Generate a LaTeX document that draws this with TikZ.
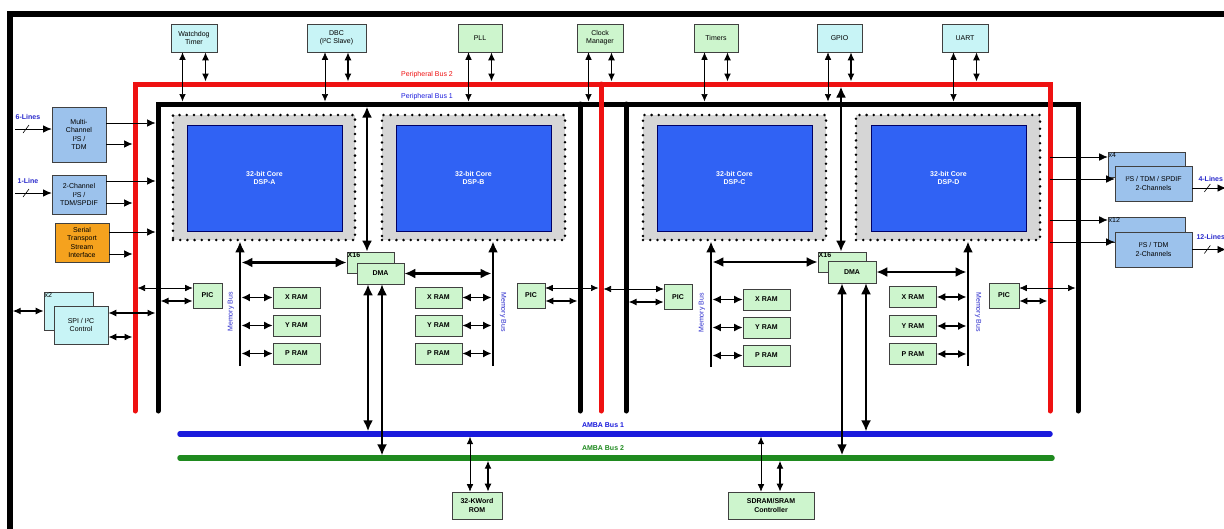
\documentclass[tikz,border=0pt]{standalone}
\usepackage{fontspec}
\setmainfont{Liberation Sans}
\usetikzlibrary{arrows.meta,calc}
\definecolor{cyanfill}{HTML}{C8F4F6}
\definecolor{greenfill}{HTML}{CDF5CD}
\definecolor{i2sblue}{HTML}{9CC2EC}
\definecolor{orangefill}{HTML}{F5A21E}
\definecolor{coreblue}{HTML}{3062F4}
\definecolor{coregray}{HTML}{D6D6D6}
\definecolor{busred}{HTML}{EE1111}
\definecolor{busblue}{HTML}{1A1ADC}
\definecolor{busgreen}{HTML}{1F8A1F}
\definecolor{lblblue}{HTML}{2A2ACC}
\newcommand{\myfs}{\fontsize{7}{8.2}\selectfont}
\newcommand{\myfsb}{\fontsize{7}{8.2}\selectfont\bfseries}
\newcommand{\perarrows}[1]{%
  \coordinate (#1L) at ([xshift=-11.5pt]#1.south);
  \coordinate (#1R) at ([xshift=11.5pt]#1.south);
  \draw[thinarr, shorten >=2.5pt] (#1L) -- (#1L |- pb1);
  \draw[medarr, shorten >=2.5pt] (#1R) -- (#1R |- pb2);}
\tikzset{
  box/.style={draw=black!75, line width=0.6pt, inner sep=0pt, align=center, font=\myfs},
  cbox/.style={box, fill=cyanfill},
  gbox/.style={box, fill=greenfill},
  gboxb/.style={box, fill=greenfill, font=\myfsb},
  bbox/.style={box, fill=i2sblue},
  obox/.style={box, fill=orangefill},
  graycore/.style={fill=coregray, draw=black, line width=2.8pt, dash pattern=on 0pt off 7.2pt, line cap=round, inner sep=0pt},
  bluecore/.style={fill=coreblue, draw=black!60!blue, line width=0.7pt, inner sep=0pt, align=center, text=white, font=\myfsb},
  busblk/.style={draw=black, line width=5pt, line cap=round, line join=miter},
  busr/.style={draw=busred, line width=5pt, line cap=round, line join=miter},
  thinarr/.style={line width=0.7pt, {Latex[length=7.5pt,width=6.5pt]}-{Latex[length=7.5pt,width=6.5pt]}},
  medarr/.style={line width=1.3pt, {Latex[length=8pt,width=7pt]}-{Latex[length=8pt,width=7pt]}},
  ramarr/.style={line width=1.6pt, {Latex[length=8.5pt,width=8pt]}-{Latex[length=8.5pt,width=8pt]}},
  thickarr/.style={line width=2.6pt, {Latex[length=11pt,width=10pt]}-{Latex[length=11pt,width=10pt]}},
  mthickarr/.style={line width=1.8pt, {Latex[length=11pt,width=10pt]}-{Latex[length=11pt,width=10pt]}},
  outarr/.style={line width=0.7pt, -{Latex[length=8.5pt,width=7.5pt]}},
  inarr/.style={line width=0.9pt, -{Latex[length=8.5pt,width=7.5pt]}},
  membus/.style={line width=2.8pt, -{Latex[length=11pt,width=10pt]}},
  lbl/.style={font=\myfsb, text=lblblue, inner sep=0pt},
  small/.style={font=\myfs, inner sep=0.8pt, anchor=north west}
}
\begin{document}
\begin{tikzpicture}[x=1pt,y=-1pt]
\useasboundingbox (0,0) rectangle (1224,528);
\fill[white] (0,0) rectangle (1224,528);

% reference coordinates
\coordinate (pb2) at (0,84);
\coordinate (pb1) at (0,104);
\coordinate (am1) at (0,434);
\coordinate (am2) at (0,458);
\coordinate (fr) at (10,0);
\coordinate (inL) at (15,0);
\coordinate (redL) at (135,0);
\coordinate (blkL) at (158,0);
\coordinate (blkM1) at (580,0);
\coordinate (redM) at (601,0);
\coordinate (blkM2) at (626,0);
\coordinate (redR) at (1050,0);
\coordinate (blkR) at (1078,0);
\coordinate (edgeR) at (1226,0);
\coordinate (mbA) at (240,0);
\coordinate (mbB) at (493,0);
\coordinate (mbC) at (711,0);
\coordinate (mbD) at (968,0);

% outer frame
\draw[line width=5.5pt] (10,540) -- (10,14) -- (1240,14);

% peripheral buses
\draw[busblk] (158,411) -- (158,104) -- (1078,104) -- (1078,411);
\draw[busblk] (580,104) -- (580,411);
\draw[busblk] (626,104) -- (626,411);
\draw[busr] (135,411) -- (135,84) -- (1050,84) -- (1050,411);
\draw[busr] (601,84) -- (601,411);
\node[font=\myfs, text=busred] at (427,75) {Peripheral Bus 2};
\node[font=\myfs, text=busblue] at (427,97) {Peripheral Bus 1};

% AMBA buses
\draw[busblue, line width=5.5pt, line cap=round] (180,434) -- (1050,434);
\draw[busgreen, line width=5.5pt, line cap=round] (180,458) -- (1052,458);
\node[font=\myfsb, text=busblue] at (603,425) {AMBA Bus 1};
\node[font=\myfsb, text=busgreen] at (603,448) {AMBA Bus 2};

% top peripherals
\node[cbox, minimum width=46pt, minimum height=28pt] (wd) at (194,38) {Watchdog\\Timer};
\node[cbox, minimum width=59pt, minimum height=28pt] (dbc) at (336.5,38) {DBC\\(I²C Slave)};
\node[gbox, minimum width=44pt, minimum height=28pt] (pll) at (480,38) {PLL};
\node[gbox, minimum width=46pt, minimum height=28pt] (clk) at (600,38) {Clock\\Manager};
\node[gbox, minimum width=44pt, minimum height=28pt] (tim) at (716,38) {Timers};
\node[cbox, minimum width=45pt, minimum height=28pt] (gpio) at (839.5,38) {GPIO};
\node[cbox, minimum width=46pt, minimum height=28pt] (uart) at (965,38) {UART};
\perarrows{wd}
\perarrows{dbc}
\perarrows{pll}
\perarrows{clk}
\perarrows{tim}
\perarrows{gpio}
\perarrows{uart}

% cores
\node[graycore, minimum width=182pt, minimum height=125pt] (gA) at (264,177.5) {};
\node[bluecore, minimum width=155pt, minimum height=106pt] (cA) at (264.5,178) {32-bit Core\\DSP-A};
\node[graycore, minimum width=183pt, minimum height=125pt] (gB) at (473.5,177.5) {};
\node[bluecore, minimum width=155pt, minimum height=106pt] (cB) at (473.5,178) {32-bit Core\\DSP-B};
\node[graycore, minimum width=183pt, minimum height=125pt] (gC) at (734.5,177.5) {};
\node[bluecore, minimum width=155pt, minimum height=106pt] (cC) at (734.5,178) {32-bit Core\\DSP-C};
\node[graycore, minimum width=184pt, minimum height=125pt] (gD) at (948,177.5) {};
\node[bluecore, minimum width=155pt, minimum height=106pt] (cD) at (948.5,178) {32-bit Core\\DSP-D};

% memory buses
\coordinate (mbAb) at (240,366);
\coordinate (mbBb) at (493,366);
\coordinate (mbCb) at (711,367);
\coordinate (mbDb) at (968,366);
\draw[membus] (mbAb) -- (mbAb |- gA.south);
\draw[membus] (mbBb) -- (mbBb |- gB.south);
\draw[membus] (mbCb) -- (mbCb |- gC.south);
\draw[membus] (mbDb) -- (mbDb |- gD.south);
\node[lbl, font=\myfs, rotate=90] at (231,312) {Memory Bus};
\node[lbl, font=\myfs, rotate=-90] at (503,312) {Memory Bus};
\node[lbl, font=\myfs, rotate=90] at (702,313) {Memory Bus};
\node[lbl, font=\myfs, rotate=-90] at (978,312) {Memory Bus};

% RAMs
\node[gboxb, minimum width=47pt, minimum height=21pt] (xA) at (296.5,297.5) {X RAM};
\node[gboxb, minimum width=47pt, minimum height=21pt] (yA) at (296.5,325.5) {Y RAM};
\node[gboxb, minimum width=47pt, minimum height=21pt] (pA) at (296.5,353.5) {P RAM};
\node[gboxb, minimum width=47pt, minimum height=21pt] (xB) at (438.5,297.5) {X RAM};
\node[gboxb, minimum width=47pt, minimum height=21pt] (yB) at (438.5,325.5) {Y RAM};
\node[gboxb, minimum width=47pt, minimum height=21pt] (pB) at (438.5,353.5) {P RAM};
\node[gboxb, minimum width=47pt, minimum height=21pt] (xC) at (766.5,299.5) {X RAM};
\node[gboxb, minimum width=47pt, minimum height=21pt] (yC) at (766.5,327.5) {Y RAM};
\node[gboxb, minimum width=47pt, minimum height=21pt] (pC) at (766.5,355.5) {P RAM};
\node[gboxb, minimum width=47pt, minimum height=21pt] (xD) at (913,297) {X RAM};
\node[gboxb, minimum width=47pt, minimum height=21pt] (yD) at (913,326) {Y RAM};
\node[gboxb, minimum width=47pt, minimum height=21pt] (pD) at (913,354) {P RAM};
\foreach \r in {xA,yA,pA} {\draw[ramarr, shorten >=1.4pt] (\r.west) -- (\r.west -| mbA);}
\foreach \r in {xB,yB,pB} {\draw[ramarr, shorten >=1.4pt] (\r.east) -- (\r.east -| mbB);}
\foreach \r in {xC,yC,pC} {\draw[ramarr, shorten >=1.4pt] (\r.west) -- (\r.west -| mbC);}
\foreach \r in {xD,yD,pD} {\draw[ramarr, shorten >=1.4pt] (\r.east) -- (\r.east -| mbD);}

% DMA blocks
\node[gboxb, minimum width=47pt, minimum height=21pt] (dmaAb) at (370.5,262.5) {};
\node[small, font=\myfsb] at (dmaAb.north west) {X16};
\node[gboxb, minimum width=47pt, minimum height=21pt] (dmaA) at (380.5,273.5) {DMA};
\node[gboxb, minimum width=48pt, minimum height=20pt] (dmaCb) at (842,262) {};
\node[small, font=\myfsb] at (dmaCb.north west) {X16};
\node[gboxb, minimum width=48pt, minimum height=22pt] (dmaC) at (852,272) {DMA};

\draw[thickarr, shorten <=1.4pt] (dmaAb.west -| mbA) -- (dmaAb.west);
\draw[thickarr, shorten >=1.4pt] (dmaA.east) -- (dmaA.east -| mbB);
\draw[thickarr, shorten <=1.4pt] (dmaCb.west -| mbC) -- (dmaCb.west);
\draw[thickarr, shorten >=1.4pt] (dmaC.east) -- (dmaC.east -| mbD);

\coordinate (dAt) at ([xshift=-3.5pt]dmaAb.north);
\draw[thickarr, shorten >=2.5pt] (dAt) -- (dAt |- pb1);
\coordinate (dCt) at ([xshift=-1pt]dmaCb.north);
\draw[thickarr, shorten >=2.5pt] (dCt) -- (dCt |- pb2);

\coordinate (dAb1) at ([xshift=-12.5pt]dmaA.south);
\coordinate (dAb2) at ([xshift=1.5pt]dmaA.south);
\draw[thickarr, shorten >=2.7pt] (dAb1) -- (dAb1 |- am1);
\draw[mthickarr, shorten >=2.7pt] (dAb2) -- (dAb2 |- am2);
\coordinate (dCb1) at ([xshift=-10pt]dmaC.south);
\coordinate (dCb2) at ([xshift=14pt]dmaC.south);
\draw[thickarr, shorten >=2.7pt] (dCb1) -- (dCb1 |- am2);
\draw[mthickarr, shorten >=2.7pt] (dCb2) -- (dCb2 |- am1);

% PICs
\node[gboxb, minimum width=29pt, minimum height=25pt] (picA) at (207.5,295.5) {PIC};
\node[gboxb, minimum width=28pt, minimum height=25pt] (picB) at (531,295.5) {PIC};
\node[gboxb, minimum width=28pt, minimum height=25pt] (picC) at (678,297) {PIC};
\node[gboxb, minimum width=30pt, minimum height=25pt] (picD) at (1004,295.5) {PIC};
\coordinate (pA1) at ([yshift=7.5pt]picA.west);
\coordinate (pA2) at ([yshift=-5.5pt]picA.west);
\draw[thinarr, shorten >=2.5pt] (pA1) -- (pA1 -| redL);
\draw[medarr, shorten >=2.5pt] (pA2) -- (pA2 -| blkL);
\coordinate (pB1) at ([yshift=7.5pt]picB.east);
\coordinate (pB2) at ([yshift=-5.5pt]picB.east);
\draw[thinarr, shorten >=2.5pt] (pB1) -- (pB1 -| redM);
\draw[medarr, shorten >=2.5pt] (pB2) -- (pB2 -| blkM1);
\coordinate (pC1) at ([yshift=8pt]picC.west);
\coordinate (pC2) at ([yshift=-5pt]picC.west);
\draw[thinarr, shorten >=2.5pt] (pC1) -- (pC1 -| redM);
\draw[medarr, shorten >=2.5pt] (pC2) -- (pC2 -| blkM2);
\coordinate (pD1) at ([yshift=7.5pt]picD.east);
\coordinate (pD2) at ([yshift=-5.5pt]picD.east);
\draw[thinarr, shorten >=2.5pt] (pD1) -- (pD1 -| blkR);
\draw[medarr, shorten >=2.5pt] (pD2) -- (pD2 -| redR);

% left side interfaces
\node[bbox, minimum width=54pt, minimum height=55pt] (mc) at (79,134.5) {Multi-\\Channel\\I²S /\\TDM};
\node[bbox, minimum width=54pt, minimum height=39pt] (tc) at (79,194.5) {2-Channel\\I²S /\\TDM/SPDIF};
\node[obox, minimum width=54pt, minimum height=39pt] (sts) at (82,242.5) {Serial\\Transport\\Stream\\Interface};
\node[cbox, minimum width=49pt, minimum height=38pt] (spib) at (68.5,311) {};
\node[small] at (spib.north west) {x2};
\node[cbox, minimum width=54pt, minimum height=38pt] (spi) at (81,325) {SPI / I²C\\Control};

\coordinate (mcIn) at ([yshift=5.5pt]mc.west);
\coordinate (mcSrc) at (mcIn -| inL);
\draw[inarr] (mcSrc) -- (mcIn);
\draw[line width=0.6pt] ($(mcSrc)+(8,4)$) -- ++(6,-8);
\node[lbl] at ($(mcSrc)+(13,-12)$) {6-Lines};
\coordinate (tcIn) at ([yshift=1.5pt]tc.west);
\coordinate (tcSrc) at (tcIn -| inL);
\draw[inarr] (tcSrc) -- (tcIn);
\draw[line width=0.6pt] ($(tcSrc)+(8,4)$) -- ++(6,-8);
\node[lbl] at ($(tcSrc)+(13,-12)$) {1-Line};

\coordinate (mcO1) at ([yshift=11.5pt]mc.east);
\coordinate (mcO2) at ([yshift=-9.5pt]mc.east);
\draw[outarr, shorten >=2.5pt] (mcO1) -- (mcO1 -| blkL);
\draw[outarr, shorten >=2.5pt] (mcO2) -- (mcO2 -| redL);
\coordinate (tcO1) at ([yshift=13.5pt]tc.east);
\coordinate (tcO2) at ([yshift=-8.5pt]tc.east);
\draw[outarr, shorten >=2.5pt] (tcO1) -- (tcO1 -| blkL);
\draw[outarr, shorten >=2.5pt] (tcO2) -- (tcO2 -| redL);
\coordinate (stO1) at ([yshift=10.5pt]sts.east);
\coordinate (stO2) at ([yshift=-11.5pt]sts.east);
\draw[outarr, shorten >=2.5pt] (stO1) -- (stO1 -| blkL);
\draw[outarr, shorten >=2.5pt] (stO2) -- (stO2 -| redL);

\draw[medarr, shorten <=2.7pt] (spib.west -| fr) -- (spib.west);
\coordinate (spO1) at ([yshift=12pt]spi.east);
\coordinate (spO2) at ([yshift=-12pt]spi.east);
\draw[medarr, shorten >=2.5pt] (spO1) -- (spO1 -| blkL);
\draw[medarr, shorten >=2.5pt] (spO2) -- (spO2 -| redL);

% right side interfaces
\node[bbox, minimum width=77pt, minimum height=25pt] (o1b) at (1146.5,164.5) {};
\node[small] at (o1b.north west) {x4};
\node[bbox, minimum width=77pt, minimum height=35pt] (o1) at (1153.5,183.5) {I²S / TDM / SPDIF\\2-Channels};
\node[bbox, minimum width=77pt, minimum height=25pt] (o2b) at (1146.5,229.5) {};
\node[small] at (o2b.north west) {x12};
\node[bbox, minimum width=77pt, minimum height=35pt] (o2) at (1153.5,249.5) {I²S / TDM\\2-Channels};

\coordinate (o1bI) at ([yshift=7.5pt]o1b.west);
\coordinate (o1I) at ([yshift=4.5pt]o1.west);
\coordinate (o2bI) at ([yshift=9.5pt]o2b.west);
\coordinate (o2I) at ([yshift=7.5pt]o2.west);
\draw[outarr] (o1bI -| redR) -- (o1bI);
\draw[outarr] (o1I -| redR) -- (o1I);
\draw[outarr] (o2bI -| redR) -- (o2bI);
\draw[outarr] (o2I -| redR) -- (o2I);

\coordinate (o1O) at ([yshift=-4.5pt]o1.east);
\coordinate (o1T) at (o1O -| edgeR);
\draw[inarr] (o1O) -- (o1T);
\draw[line width=0.6pt] ($(o1O)+(12,4)$) -- ++(6,-8);
\node[lbl, anchor=west] at ($(o1O)+(6,-9)$) {4-Lines};
\coordinate (o2O) at (o2.east);
\coordinate (o2T) at (o2O -| edgeR);
\draw[inarr] (o2O) -- (o2T);
\draw[line width=0.6pt] ($(o2O)+(12,4)$) -- ++(6,-8);
\node[lbl, anchor=west] at ($(o2O)+(4,-13)$) {12-Lines};

% bottom memories
\node[gboxb, minimum width=50pt, minimum height=27pt] (rom) at (477,505.5) {32-KWord\\ROM};
\node[gboxb, minimum width=86pt, minimum height=27pt] (sdr) at (771,505.5) {SDRAM/SRAM\\Controller};
\coordinate (romL) at ([xshift=-7pt]rom.north);
\coordinate (romR) at ([xshift=11pt]rom.north);
\draw[thinarr, shorten >=2.7pt] (romL) -- (romL |- am1);
\draw[medarr, shorten >=2.7pt] (romR) -- (romR |- am2);
\coordinate (sdrL) at ([xshift=-10pt]sdr.north);
\coordinate (sdrR) at ([xshift=9pt]sdr.north);
\draw[thinarr, shorten >=2.7pt] (sdrL) -- (sdrL |- am1);
\draw[medarr, shorten >=2.7pt] (sdrR) -- (sdrR |- am2);
\end{tikzpicture}
\end{document}
